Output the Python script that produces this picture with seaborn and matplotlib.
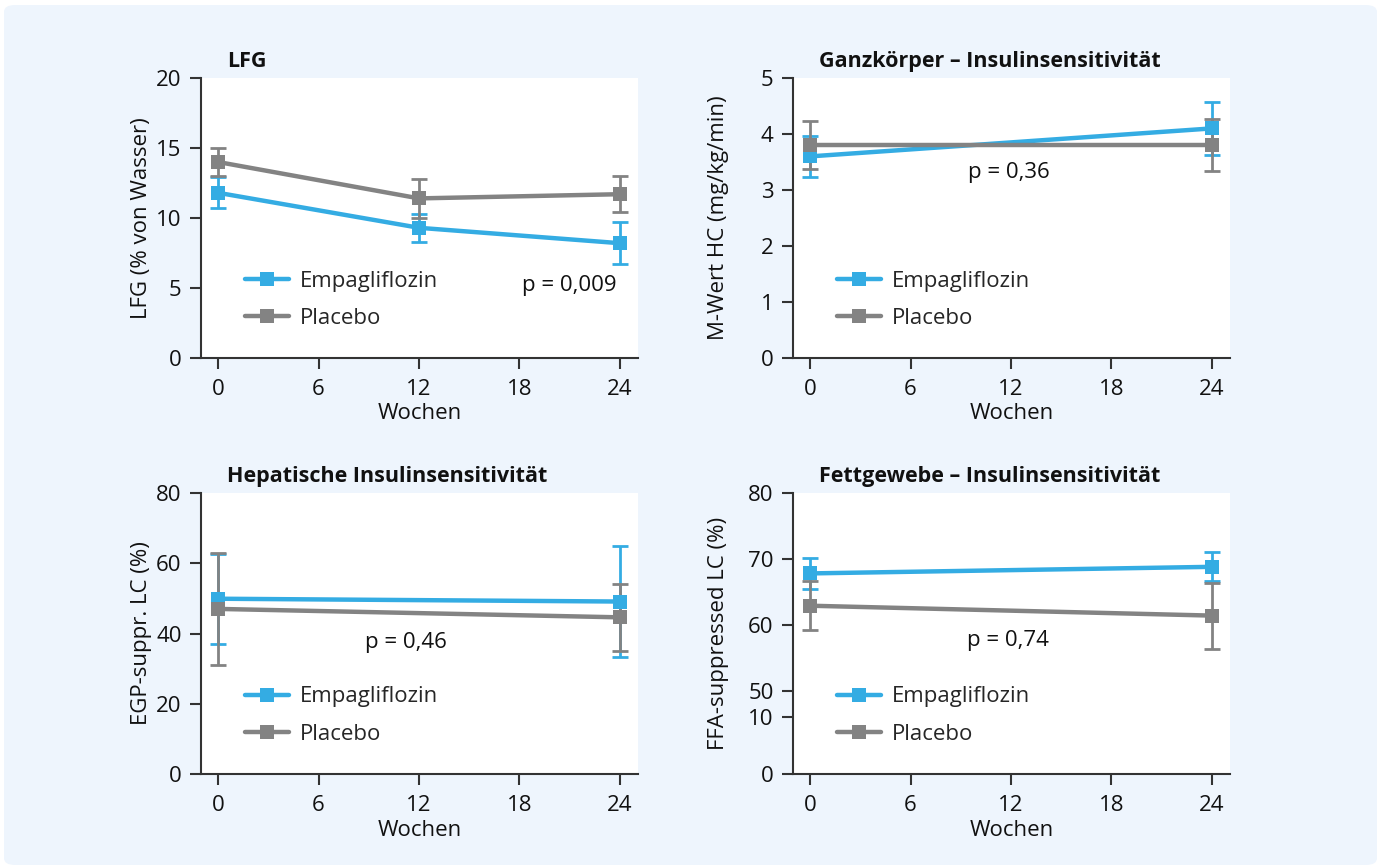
import numpy as np
import pandas as pd
import matplotlib
matplotlib.use('Agg')
import matplotlib.pyplot as plt
from matplotlib.patches import FancyBboxPatch
import seaborn as sns

# data
weeks_lfg = [0, 12, 24]
lfg_empa = [11.8, 9.3, 8.2]
lfg_empa_err = [1.1, 1.0, 1.5]
lfg_plac = [14.0, 11.4, 11.7]
lfg_plac_err = [1.0, 1.4, 1.3]

weeks = [0, 24]
m_empa = [3.6, 4.1]
m_empa_err = [0.37, 0.47]
m_plac = [3.8, 3.8]
m_plac_err = [0.43, 0.46]

egp_empa = [49.9, 49.1]
egp_empa_err = [12.8, 15.7]
egp_plac = [47.0, 44.6]
egp_plac_err = [16.0, 9.6]

ffa_empa = [67.8, 68.8]
ffa_empa_err = [2.3, 2.2]
ffa_plac = [62.9, 61.4]
ffa_plac_err = [3.7, 5.0]

groups = ['Empagliflozin', 'Placebo']
x_ticks = [0, 6, 12, 18, 24]

BLUE = '#34ace3'
GREY = '#838383'
AXC = '#333333'
BG = '#eef5fd'
FS = 16

sns.set_style('ticks')
plt.rcParams['font.family'] = ['Open Sans', 'DejaVu Sans']
plt.rcParams['font.size'] = FS

fig = plt.figure(figsize=(13.81, 8.66), dpi=100)
fig.patch.set_facecolor('white')
fig.patches.append(FancyBboxPatch((4 / 1381, 1 / 866), 1373 / 1381, 860 / 866,
                                  boxstyle='round,pad=0,rounding_size=0.008',
                                  transform=fig.transFigure, facecolor=BG,
                                  edgecolor='none', zorder=-10))


def panel(rect, x, empa, empa_err, plac, plac_err, title, ylabel, ptext, ppos, ylim, yticks):
    ax = fig.add_axes(rect)
    ax.set_facecolor('white')
    df = pd.DataFrame({
        'Wochen': list(x) * 2,
        'value': list(empa) + list(plac),
        'group': [groups[0]] * len(x) + [groups[1]] * len(x),
    })
    errs = {groups[0]: empa_err, groups[1]: plac_err}
    for g, c in zip(groups, [BLUE, GREY]):
        sub = df[df['group'] == g]
        ax.errorbar(sub['Wochen'], sub['value'], yerr=errs[g], fmt='none',
                    ecolor=c, elinewidth=2, capsize=6, capthick=2, zorder=2)
        sns.lineplot(data=sub, x='Wochen', y='value', color=c, marker='s',
                     markersize=10.5, markeredgewidth=0, linewidth=3.2,
                     label=g, ax=ax, zorder=3)
    ax.set_xlim(-1.02, 25.08)
    ax.set_ylim(*ylim)
    ax.set_xticks(x_ticks)
    ax.set_yticks(yticks)
    ax.set_yticklabels([str(t) for t in yticks])
    sns.despine(ax=ax)
    for s in ['left', 'bottom']:
        ax.spines[s].set_color(AXC)
        ax.spines[s].set_linewidth(1.5)
    ax.tick_params(axis='both', colors=AXC, length=8, width=1.5, labelsize=FS,
                   labelcolor='#111111')
    ax.tick_params(axis='x', pad=7)
    ax.tick_params(axis='y', pad=6)
    ax.set_xlabel('Wochen', fontsize=FS, color='#111111')
    ax.set_ylabel(ylabel, fontsize=FS, color='#111111')
    ax.xaxis.set_label_coords(0.5, -0.162)
    ax.yaxis.set_label_coords(-0.113, 0.5)
    ax.text(0.06, 1.058, title, transform=ax.transAxes, fontsize=15.5,
            fontweight='bold', va='center', ha='left', color='#111111')
    ax.text(ppos[0], ppos[1], ptext, fontsize=FS, ha='center', va='center',
            color='#111111')
    ax.legend(loc='center left', bbox_to_anchor=(0.10, 0.208), frameon=False,
              fontsize=FS, handlelength=2.0, handletextpad=0.5,
              labelspacing=0.74, borderpad=0, borderaxespad=0)
    return ax


w1, h1 = 437 / 1381, 280 / 866
ax1 = panel([201 / 1381, 1 - 358 / 866, w1, h1], weeks_lfg, lfg_empa, lfg_empa_err,
            lfg_plac, lfg_plac_err, 'LFG', 'LFG (% von Wasser)', 'p = 0,009',
            (21.0, 5.2), (0, 20), [0, 5, 10, 15, 20])
ax2 = panel([793 / 1381, 1 - 358 / 866, w1, h1], weeks, m_empa, m_empa_err,
            m_plac, m_plac_err, 'Ganzkörper – Insulinsensitivität',
            'M-Wert HC (mg/kg/min)', 'p = 0,36', (11.9, 3.32), (0, 5),
            [0, 1, 2, 3, 4, 5])
ax2.yaxis.set_label_coords(-0.147, 0.5)
ax3 = panel([201 / 1381, 1 - 774 / 866, w1, 281 / 866], weeks, egp_empa, egp_empa_err,
            egp_plac, egp_plac_err, 'Hepatische Insulinsensitivität',
            'EGP-suppr. LC (%)', 'p = 0,46', (11.2, 37.3), (0, 80),
            [0, 20, 40, 60, 80])

# broken y-axis for the last panel: 0-10 compressed, gap to 50
k = 0.872
gap = 3.91
bx = [-1000, 0, 10, 50, 1000]
by = [-1000 * k, 0, 10 * k, 10 * k + gap, 10 * k + gap + 950]


def fwd(v):
    return np.interp(v, bx, by)


def inv(v):
    return np.interp(v, by, bx)


ax4 = panel([793 / 1381, 1 - 774 / 866, w1, 281 / 866], weeks, ffa_empa, ffa_empa_err,
            ffa_plac, ffa_plac_err, 'Fettgewebe – Insulinsensitivität',
            'FFA-suppressed LC (%)', 'p = 0,74', (11.8, 57.6), (0, 80),
            [0, 10, 50, 60, 70, 80])
ax4.set_yscale('function', functions=(fwd, inv))
ax4.set_ylim(0, 80)
ax4.set_yticks([0, 10, 50, 60, 70, 80])
ax4.set_yticklabels(['0', '10', '50', '60', '70', '80'])
ax4.yaxis.set_minor_locator(matplotlib.ticker.NullLocator())
ax4.yaxis.set_label_coords(-0.147, 0.5)

fig.savefig('out.png', dpi=100, facecolor='white')
